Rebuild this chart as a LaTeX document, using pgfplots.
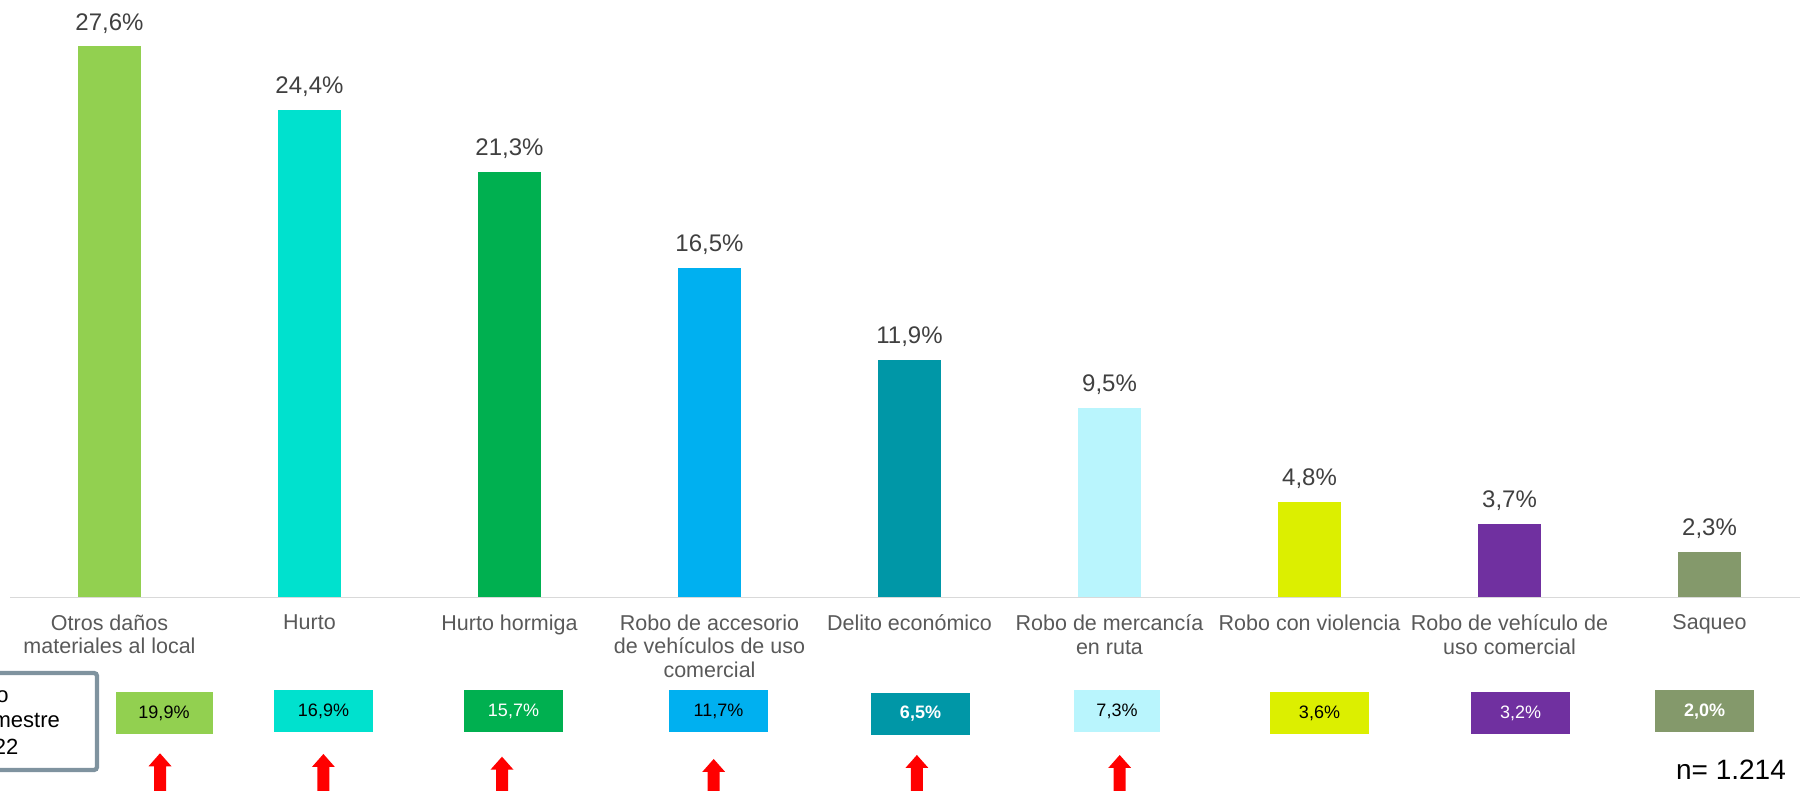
\documentclass[border=0pt]{standalone}
\usepackage{pgfplots}
\pgfplotsset{compat=1.18}
\usepackage{fontspec}
\setmainfont{Liberation Sans}
\definecolor{c1}{HTML}{92D050}
\definecolor{c2}{HTML}{00E1CE}
\definecolor{c3}{HTML}{00B050}
\definecolor{c4}{HTML}{00B0F0}
\definecolor{c5}{HTML}{0097A7}
\definecolor{c6}{HTML}{B9F5FD}
\definecolor{c7}{HTML}{DCEF00}
\definecolor{c8}{HTML}{7030A0}
\definecolor{c9}{HTML}{84996B}
\definecolor{valgray}{HTML}{404040}
\definecolor{catgray}{HTML}{595959}
\definecolor{axgray}{HTML}{D9D9D9}
\definecolor{boxborder}{HTML}{7F939F}
\begin{document}
\begin{tikzpicture}
\useasboundingbox (0,0) rectangle (900pt,395.5pt);
\begin{axis}[
  at={(5pt,96.75pt)}, anchor=south west,
  scale only axis, width=895pt, height=298.75pt,
  xmin=-0.4975, xmax=8.4525, ymin=0, ymax=29.905,
  clip=false,
  axis y line=none, axis x line=bottom,
  x axis line style={-, draw=axgray, line width=0.75pt},
  ytick=\empty,
  xtick={0,1,2,3,4,5,6,7,8},
  major tick length=0pt,
  xticklabels={{Otros daños\\materiales al local},{Hurto},{Hurto hormiga},{Robo de accesorio\\de vehículos de uso\\comercial},{Delito económico},{Robo de mercancía\\en ruta},{Robo con violencia},{Robo de vehículo de\\uso comercial},{Saqueo}},
  xticklabel style={font=\fontsize{10.75}{11.75}\selectfont, text=catgray, align=center, inner sep=0pt, anchor=north, yshift=-8.5pt},
  nodes near coords={\pgfmathprintnumber{\pgfplotspointmeta}\%},
  every node near coord/.append style={font=\fontsize{12}{14}\selectfont, text=valgray, anchor=base, yshift=8pt, inner sep=0pt},
  /pgf/number format/.cd, fixed, fixed zerofill, precision=1, use comma, assume math mode=true,
]
\addplot[ybar, bar width=31.5pt, bar shift=0pt, fill=c1, draw=none] coordinates {(0,27.6)};
\addplot[ybar, bar width=31.5pt, bar shift=0pt, fill=c2, draw=none] coordinates {(1,24.4)};
\addplot[ybar, bar width=31.5pt, bar shift=0pt, fill=c3, draw=none] coordinates {(2,21.3)};
\addplot[ybar, bar width=31.5pt, bar shift=0pt, fill=c4, draw=none] coordinates {(3,16.5)};
\addplot[ybar, bar width=31.5pt, bar shift=0pt, fill=c5, draw=none] coordinates {(4,11.9)};
\addplot[ybar, bar width=31.5pt, bar shift=0pt, fill=c6, draw=none] coordinates {(5,9.5)};
\addplot[ybar, bar width=31.5pt, bar shift=0pt, fill=c7, draw=none] coordinates {(6,4.8)};
\addplot[ybar, bar width=31.5pt, bar shift=0pt, fill=c8, draw=none] coordinates {(7,3.7)};
\addplot[ybar, bar width=31.5pt, bar shift=0pt, fill=c9, draw=none] coordinates {(8,2.3)};
\end{axis}
% left reference box (cut off at page edge)
\draw[boxborder, line width=2.15pt, rounded corners=1.5pt] (-40pt,10.5pt) rectangle (48.5pt,59pt);
\begin{scope}[every node/.style={font=\fontsize{11}{13}\selectfont, anchor=base west, inner sep=0pt}]
\node at (-15.5pt,44pt) {Año};
\node at (-15.5pt,31.5pt) {semestre};
\node at (-15.5pt,18pt) {2022};
\end{scope}
% previous-period boxes
\begin{scope}[every node/.style={font=\fontsize{9}{11}\selectfont, minimum height=21pt, inner sep=0pt}]
\node[fill=c1, minimum width=48.5pt, text=black] at (82pt,39pt) {19,9\%};
\node[fill=c2, minimum width=49.5pt, text=black] at (161.75pt,39.75pt) {16,9\%};
\node[fill=c3, minimum width=49.5pt, text=white] at (256.75pt,39.75pt) {15,7\%};
\node[fill=c4, minimum width=49.5pt, text=black] at (359.25pt,39.75pt) {11,7\%};
\node[fill=c5, minimum width=49.5pt, text=white, font=\fontsize{9}{11}\selectfont\bfseries] at (460.25pt,38.5pt) {6,5\%};
\node[fill=c6, minimum width=43pt, text=black] at (558.5pt,39.75pt) {7,3\%};
\node[fill=c7, minimum width=49.5pt, text=black] at (659.75pt,39pt) {3,6\%};
\node[fill=c8, minimum width=49.5pt, text=white] at (760.25pt,39pt) {3,2\%};
\node[fill=c9, minimum width=49.5pt, text=white, font=\fontsize{9}{11}\selectfont\bfseries] at (852.25pt,39.75pt) {2,0\%};
\end{scope}
% red up arrows
\begin{scope}[x=1pt, y=1pt]
\foreach \ax/\at in {80/18.85, 161.7/18.5, 251/17.15, 356.85/16, 458.45/18, 559.85/18}{
  \fill[red] (\ax,\at) -- ({\ax+5.75},{\at-6.5}) -- ({\ax+3},{\at-6.5}) -- ({\ax+3},-5) -- ({\ax-3},-5) -- ({\ax-3},{\at-6.5}) -- ({\ax-5.75},{\at-6.5}) -- cycle;
}
\end{scope}
\node[font=\fontsize{14}{16}\selectfont, anchor=base west, inner sep=0pt] at (837.85pt,5.5pt) {n= 1.214};
\end{tikzpicture}
\end{document}
